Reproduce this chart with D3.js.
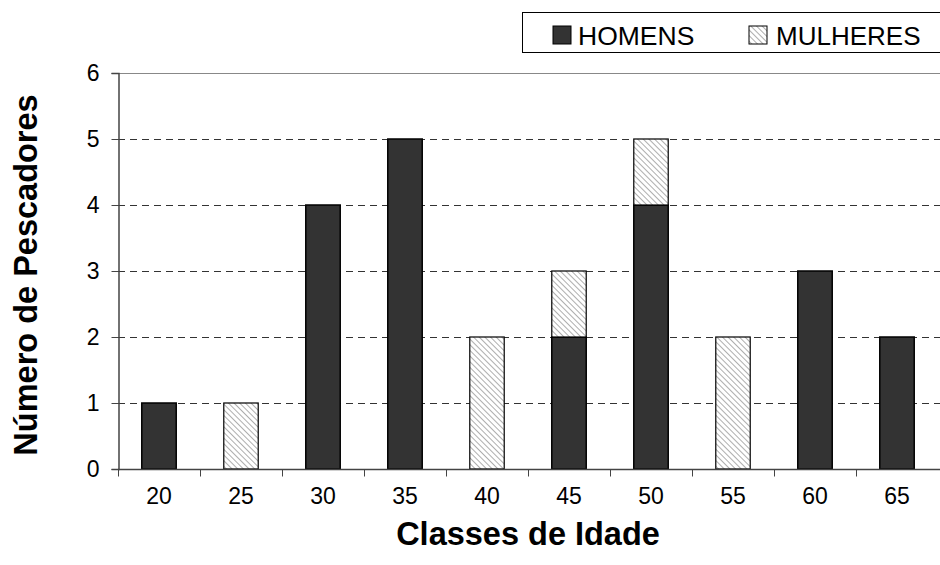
<!DOCTYPE html>
<meta charset="utf-8">
<style>
  body { margin: 0; background: #fff; }
  text { font-family: "Liberation Sans", Arial, sans-serif; }
</style>
<body>
<div id="chart"></div>
<script src="https://cdn.jsdelivr.net/npm/d3@7"></script>
<script>
var classes = ["20", "25", "30", "35", "40", "45", "50", "55", "60", "65"];
var homens = [1, 0, 4, 5, 0, 2, 4, 0, 3, 2];
var mulheres = [0, 1, 0, 0, 2, 1, 1, 2, 0, 0];
var yTicks = [0, 1, 2, 3, 4, 5, 6];

var w = 940, h = 565;
var mLeft = 118, mRight = 938, mTop = 73, mBottom = 469;

var svg = d3.select("#chart").append("svg")
  .attr("width", w).attr("height", h);

// hatch for MULHERES
var pat = svg.append("defs").append("pattern")
  .attr("id", "hatch")
  .attr("patternUnits", "userSpaceOnUse")
  .attr("width", 4).attr("height", 4)
  .attr("patternTransform", "rotate(-45)");
pat.append("rect").attr("width", 4).attr("height", 4).attr("fill", "#fff");
pat.append("line")
  .attr("x1", 0).attr("y1", 0).attr("x2", 0).attr("y2", 4)
  .attr("stroke", "#999").attr("stroke-width", 1.6);

var x = d3.scaleBand().domain(classes).range([mLeft, mRight]).paddingInner(0.58).paddingOuter(0.29);
var xb = d3.scaleBand().domain(classes).range([mLeft, mRight]);
var y = d3.scaleLinear().domain([0, 6]).range([mBottom, mTop]);

// grid lines
svg.append("g").selectAll("line")
  .data(yTicks.filter(function (d) { return d > 0; }))
  .enter().append("line")
  .attr("x1", mLeft).attr("x2", w)
  .attr("y1", function (d) { return y(d) + 0.5; })
  .attr("y2", function (d) { return y(d) + 0.5; })
  .attr("stroke", function (d) { return d == 6 ? "#888" : "#333"; })
  .attr("stroke-dasharray", function (d) { return d == 6 ? null : "7,5"; })
  .attr("stroke-width", 1);

var stack = classes.map(function (c, i) {
  return { c: c, h: homens[i], m: mulheres[i] };
});

var bars = svg.append("g");
bars.selectAll("rect.h")
  .data(stack.filter(function (d) { return d.h > 0; }))
  .enter().append("rect")
  .attr("class", "h")
  .attr("x", function (d) { return x(d.c); })
  .attr("width", x.bandwidth())
  .attr("y", function (d) { return y(d.h); })
  .attr("height", function (d) { return y(0) - y(d.h); })
  .attr("fill", "#333").attr("stroke", "#000").attr("stroke-width", 1.5);

bars.selectAll("rect.m")
  .data(stack.filter(function (d) { return d.m > 0; }))
  .enter().append("rect")
  .attr("class", "m")
  .attr("x", function (d) { return x(d.c); })
  .attr("width", x.bandwidth())
  .attr("y", function (d) { return y(d.h + d.m); })
  .attr("height", function (d) { return y(d.h) - y(d.h + d.m); })
  .attr("fill", "url(#hatch)").attr("stroke", "#000").attr("stroke-width", 1.2);

// y axis
var yAxis = svg.append("g")
  .attr("transform", "translate(" + (mLeft + 0.5) + ",0)")
  .call(d3.axisLeft(y).tickValues(yTicks).tickSize(7).tickPadding(12).tickFormat(d3.format("d")));
yAxis.select(".domain").attr("stroke", "#444").attr("stroke-width", 1.5);
yAxis.selectAll(".tick line").attr("stroke", "#444");
yAxis.selectAll("text").attr("font-size", 23).attr("fill", "#000")
  .attr("font-family", "'Liberation Sans', Arial, sans-serif");

// x axis
var xg = svg.append("g").attr("transform", "translate(0," + (mBottom + 0.5) + ")");
xg.append("line").attr("x1", mLeft).attr("x2", w).attr("stroke", "#444").attr("stroke-width", 1.5);
xg.selectAll("line.t")
  .data(classes)
  .enter().append("line")
  .attr("x1", function (d) { return Math.round(xb(d)) + 0.5; })
  .attr("x2", function (d) { return Math.round(xb(d)) + 0.5; })
  .attr("y1", 0).attr("y2", 7)
  .attr("stroke", "#444");
xg.selectAll("text")
  .data(classes)
  .enter().append("text")
  .attr("x", function (d) { return xb(d) + xb.bandwidth() / 2; })
  .attr("y", 34)
  .attr("text-anchor", "middle")
  .attr("font-size", 23)
  .text(function (d) { return d; });

// titles
svg.append("text")
  .attr("x", 528).attr("y", 545)
  .attr("text-anchor", "middle")
  .attr("font-size", 32.5).attr("font-weight", "bold")
  .text("Classes de Idade");

svg.append("text")
  .attr("transform", "translate(37,275) rotate(-90)")
  .attr("text-anchor", "middle")
  .attr("font-size", 32.5).attr("font-weight", "bold")
  .text("Número de Pescadores");

// legend
var lg = svg.append("g");
lg.append("rect")
  .attr("x", 522.5).attr("y", 12.5).attr("width", 420).attr("height", 40)
  .attr("fill", "#fff").attr("stroke", "#000").attr("stroke-width", 1);
lg.append("rect").attr("x", 553).attr("y", 26).attr("width", 18).attr("height", 18)
  .attr("fill", "#333").attr("stroke", "#000");
lg.append("text").attr("x", 578).attr("y", 45).attr("font-size", 26.5).text("HOMENS");
lg.append("rect").attr("x", 749).attr("y", 26).attr("width", 18).attr("height", 18)
  .attr("fill", "url(#hatch)").attr("stroke", "#000");
lg.append("text").attr("x", 776).attr("y", 45).attr("font-size", 26).text("MULHERES");
</script>
</body>
